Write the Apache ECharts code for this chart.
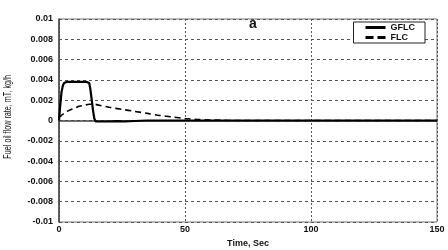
<!DOCTYPE html>
<html><head><meta charset="utf-8">
<script src="https://cdn.jsdelivr.net/npm/echarts@6/dist/echarts.min.js"></script>
<style>html,body{margin:0;padding:0;background:#fff}#c{width:448px;height:250px}</style>
</head><body><div id="c"></div>
<script>
const gflcTime = [0,0.5,1,1.5,2,3,5,8,11,12,12.5,13,13.5,14,14.5,15,17,20,23,26,30,35,40,150];
const gflcValue = [0,0.0015,0.0028,0.0034,0.0037,0.0038,0.0038,0.0038,0.0038,0.0037,0.003,0.002,0.001,0.0002,-0.00008,-0.00012,-0.0001,-0.0001,-0.00006,-0.0001,-0.00005,0,0,0];
const flcTime = [0,2,4,6,8,10,12,14,16,20,25,30,35,40,45,50,55,60,65,70,150];
const flcValue = [0.0003,0.0007,0.001,0.0012,0.0014,0.0015,0.0016,0.0016,0.0015,0.0013,0.0011,0.0009,0.0007,0.0005,0.00035,0.0002,0.0001,0.00005,0.00002,0,0];
const seriesNames = ['GFLC','FLC'];
const xTicks = [0,50,100,150];
const yTicks = [-0.01,-0.008,-0.006,-0.004,-0.002,0,0.002,0.004,0.006,0.008,0.01];
const yTitle = 'Fuel oil flow rate, mT, kg/h';

const chart = echarts.init(document.getElementById('c'));
const lbl = {fontFamily:'Liberation Sans, Arial', fontWeight:'bold', fontSize:9, color:'#111'};
chart.setOption({
  animation:false,
  grid:{left:59,right:11,top:19,bottom:28,show:true,borderColor:'#777',borderWidth:1,containLabel:false,outerBoundsMode:'none'},
  title:{text:'a',left:244,top:12,textStyle:{fontFamily:'Liberation Sans, Arial',fontWeight:'bold',fontSize:14,color:'#111'}},
  legend:{data:[
      {name:seriesNames[0],icon:'path://M0,0H20V3H0Z'},
      {name:seriesNames[1],icon:'path://M0,0H8V3H0Z M12,0H20V3H12Z'}],
    orient:'vertical',right:23,top:22,itemWidth:20,itemHeight:3,itemGap:1,padding:[1,10,1,12],
    borderColor:'#222',borderWidth:1,backgroundColor:'#fff',itemStyle:{color:'#000'},
    textStyle:{fontFamily:'Liberation Sans, Arial',fontWeight:'bold',fontSize:9,color:'#111'}},
  graphic:[{type:'text',left:3,top:75,rotation:Math.PI/2,scaleX:0.72,
    style:{text:yTitle,fontFamily:'Liberation Sans, Arial',fontSize:10,fill:'#111'}}],
  xAxis:{type:'value',min:0,max:150,interval:50,
    name:'Time, Sec',nameLocation:'middle',nameGap:12,
    nameTextStyle:{fontFamily:'Liberation Sans, Arial',fontWeight:'bold',fontSize:9,color:'#111'},
    axisLine:{lineStyle:{color:'#444',width:1.5}},axisTick:{show:false},
    axisLabel:Object.assign({margin:3},lbl),
    splitLine:{show:true,lineStyle:{type:[2,2],color:'#555',width:1}}},
  yAxis:{type:'value',min:-0.01,max:0.01,interval:0.002,
    axisLine:{show:true,lineStyle:{color:'#444',width:1.5}},axisTick:{show:false},
    axisLabel:Object.assign({margin:6,formatter:v=>String(+v.toFixed(3))},lbl),
    splitLine:{show:true,lineStyle:{type:[3,3],color:'#555',width:1}}},
  series:[
    {name:'GFLC',type:'line',showSymbol:false,symbol:'none',
     data:gflcTime.map((t,i)=>[t,gflcValue[i]]),
     lineStyle:{color:'#000',width:2.2},itemStyle:{color:'#000'},z:3},
    {name:'FLC',type:'line',showSymbol:false,symbol:'none',smooth:0.3,
     data:flcTime.map((t,i)=>[t,flcValue[i]]),
     lineStyle:{color:'#000',width:1.6,type:[6,4]},itemStyle:{color:'#000'},z:2}
  ]
});
</script></body></html>
